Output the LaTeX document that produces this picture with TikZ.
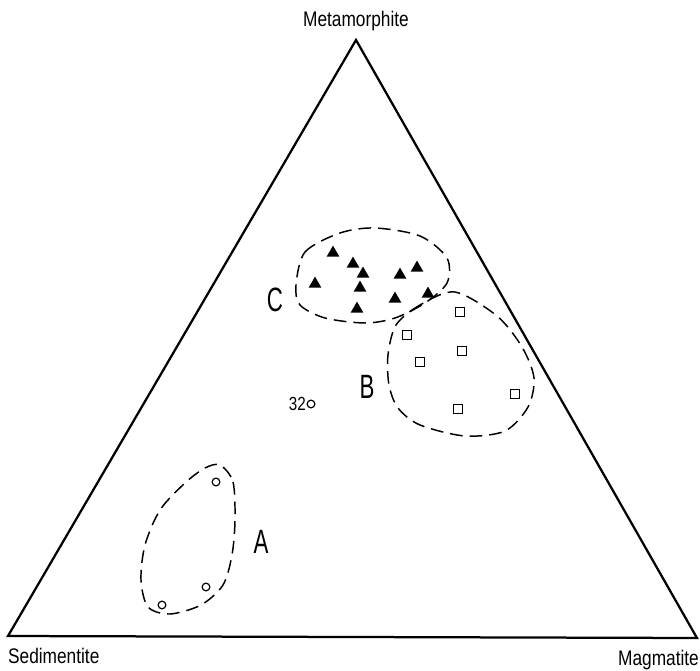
\documentclass[tikz,border=0pt]{standalone}
\usepackage{fontspec}
\setmainfont{Liberation Sans}
\usetikzlibrary{shapes.geometric}

\begin{document}
\begin{tikzpicture}[x=0.05cm,y=-0.05cm,
    vlabel/.style={font=\fontsize{30}{34}\selectfont, xscale=0.82, inner sep=0pt, anchor=base west},
    glabel/.style={font=\fontsize{48}{52}\selectfont, xscale=0.66, inner sep=0pt},
    tri/.style={regular polygon, regular polygon sides=3, fill=black, inner sep=0pt, minimum size=21pt},
    sq/.style={rectangle, draw, line width=1.9pt, inner sep=0pt, minimum size=12pt},
    ci/.style={circle, draw, line width=1.7pt, inner sep=0pt, minimum size=11pt},
    grp/.style={dash pattern=on 18pt off 10pt, line width=2.1pt}]
    \useasboundingbox (0,0) rectangle (700,671);
    % corners of the diagram
    \coordinate (met) at (356,40);
    \coordinate (sed) at (8,636);
    \coordinate (mag) at (697,638);
    \draw[line width=3.2pt] (met) -- (sed) -- (mag) -- cycle;
    \node[vlabel] (metL) at (303,27) {Metamorphite};
    \node[vlabel] (sedL) at (8,663) {Sedimentite};
    \node[vlabel] (magL) at (618,665) {Magmatite};
    % group C
    \draw[grp] plot[smooth cycle] coordinates {(296,285) (305,252) (340,233) (375,228) (420,236)
        (447,258) (447,283) (425,303) (395,318) (365,323) (325,318) (300,305)};
    \foreach \x/\y [count=\i] in {333/253, 353/264, 363/274, 315/284, 360/288,
        357/309, 400/275, 417/268, 395/299, 428/294}
        \node[tri] (t\i) at (\x,\y) {};
    \node[glabel] (lblC) at (275,300) {C};
    % group B
    \draw[grp] plot[smooth cycle] coordinates {(455,292) (420,305) (396,325) (388,355) (389,385)
        (398,408) (420,425) (465,436) (505,431) (528,407) (534,378) (522,347) (497,316)};
    \foreach \x/\y [count=\i] in {460/312, 407/335, 462/351, 420/362, 515/394, 458/409}
        \node[sq] (s\i) at (\x,\y) {};
    \node[glabel] (lblB) at (367,387) {B};
    % group A
    \draw[grp] plot[smooth cycle] coordinates {(220,465) (233,482) (235,520) (232,555) (223,585)
        (201,605) (170,614) (148,607) (141,580) (145,545) (160,510) (185,483) (205,468)};
    \foreach \x/\y [count=\i] in {216/482, 206/587, 162/605}
        \node[ci] (c\i) at (\x,\y) {};
    \node[glabel] (lblA) at (261,542) {A};
    % single sample
    \node[ci] (c32) at (311,404) {};
    \node[font=\fontsize{27}{30}\selectfont, xscale=0.8, inner sep=0pt, anchor=east] (n32) at ([xshift=-1pt]c32.west) {32};
\end{tikzpicture}
\end{document}
